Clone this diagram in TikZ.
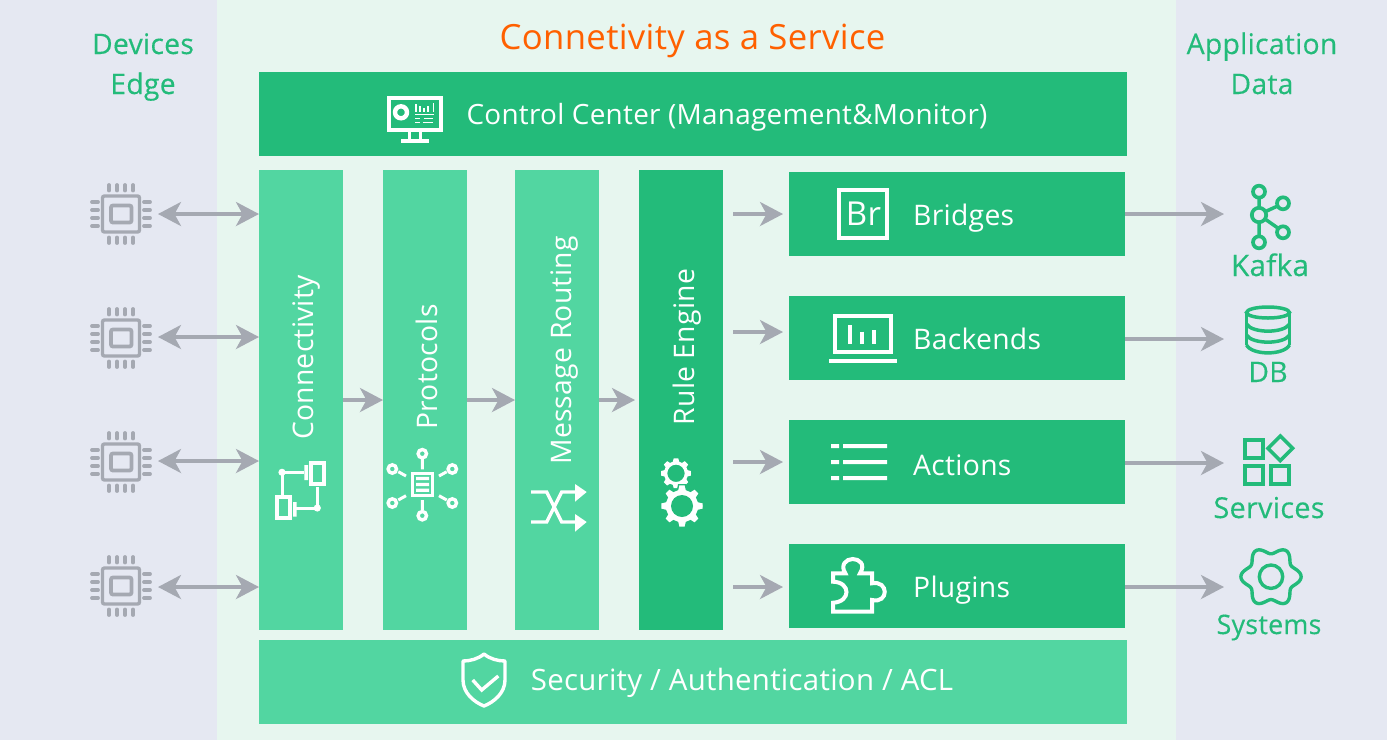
\documentclass[tikz,border=0pt]{standalone}
\usepackage{fontspec}
\setmainfont{Open Sans}[LetterSpace=1]
\newfontfamily\headfont{Open Sans}[LetterSpace=1,FakeBold=0.35]
\usetikzlibrary{arrows.meta,calc}
\definecolor{sidebg}{HTML}{E5E8F2}
\definecolor{midbg}{HTML}{E7F6EF}
\definecolor{dgreen}{HTML}{23BB7A}
\definecolor{lgreen}{HTML}{52D6A1}
\definecolor{arrgray}{HTML}{A5A9B2}
\definecolor{orangetitle}{HTML}{FF6000}
\newcommand{\fs}[1]{\fontsize{#1}{#1}\selectfont}
\tikzset{
 x=1pt,y=-1pt,
 box/.style={anchor=north west,inner sep=0,outer sep=0,text=white,align=center},
 darkbox/.style={box,fill=dgreen},
 lightbox/.style={box,fill=lgreen},
 colbox/.style={minimum width=84pt,minimum height=460pt},
 rowbox/.style={minimum width=336pt,minimum height=84pt},
 wide/.style={minimum width=868pt,minimum height=84pt},
 lab/.style={text=white,inner sep=0,anchor=base,font=\fs{28.3}},
 vlab/.style={lab,rotate=90},
 head/.style={text=dgreen,inner sep=0,anchor=base,font=\headfont\fs{28.3}},
 hook/.style={inner sep=0,outer sep=0,minimum size=6pt},
 flow/.style={draw=arrgray,line width=3.4pt,-{Stealth[length=23pt,width=24pt,inset=6.5pt]}},
 flowtwo/.style={draw=arrgray,line width=3.4pt,{Stealth[length=23pt,width=24pt,inset=6.5pt]}-{Stealth[length=23pt,width=24pt,inset=6.5pt]}},
 wl/.style={draw=white,line width=3.6pt},
 gl/.style={draw=dgreen,line width=3.5pt},
 chip/.pic={
  \draw[arrgray,line width=3.4pt,rounded corners=2pt] (-18.5,-18) rectangle (18.5,18);
  \draw[arrgray,line width=3.8pt,rounded corners=2pt] (-10,-8.5) rectangle (10.5,8.5);
  \foreach \d in {-12,-4,4,12}{
   \draw[arrgray,line width=3.8pt,line cap=round] (\d,-29) -- (\d,-23.5);
   \draw[arrgray,line width=3.8pt,line cap=round] (\d,23.5) -- (\d,29);
   \draw[arrgray,line width=3.8pt,line cap=round] (-29,\d) -- (-23,\d);
   \draw[arrgray,line width=3.8pt,line cap=round] (23,\d) -- (29,\d);
  }
 }
}
\begin{document}
\begin{tikzpicture}
\useasboundingbox (0,0) rectangle (1387,740);
\fill[sidebg] (0,0) rectangle (1387,740);
\fill[midbg] (217,0) rectangle (1176,740);
% titles
\node[inner sep=0,anchor=base,text=orangetitle,font=\fs{34.7}] (title) at (692.5,49) {Connetivity as a Service};
\node[head] (h1) at (143,54) {Devices};
\node[head] (h2) at (143,94) {Edge};
\node[head] (h3) at (1262,54) {Application};
\node[head] (h4) at (1262,94) {Data};
% main boxes
\node[darkbox,wide] (control) at (259,72) {};
\node[lab,font=\fs{27.9}] (controlt) at (727,124) {Control Center (Management\&Monitor)};
\node[lightbox,wide] (security) at (259,640) {};
\node[lab,font=\fs{29.4}] (securityt) at (742,690) {Security / Authentication / ACL};
\node[lightbox,colbox] (conn) at (259,170) {};
\node[lightbox,colbox] (proto) at (383,170) {};
\node[lightbox,colbox] (route) at (515,170) {};
\node[darkbox,colbox] (rule) at (639,170) {};
\node[vlab] (connt) at (313,357.5) {Connectivity};
\node[vlab] (protot) at (437,367) {Protocols};
\node[vlab] (routet) at (571,350.5) {Message Routing};
\node[vlab] (rulet) at (694,347) {Rule Engine};
\node[darkbox,rowbox] (bridges) at (789,172) {};
\node[darkbox,rowbox] (backends) at (789,296) {};
\node[darkbox,rowbox] (actions) at (789,420) {};
\node[darkbox,rowbox] (plugins) at (789,544) {};
\node[lab,anchor=base west] (bridgest) at (913,225) {Bridges};
\node[lab,anchor=base west] (backendst) at (913,349) {Backends};
\node[lab,anchor=base west] (actionst) at (913,475) {Actions};
\node[lab,anchor=base west] (pluginst) at (913,597) {Plugins};
% chip anchors and arrows
\foreach \n/\cy/\ay in {1/214/214,2/338/337,3/462/461,4/586/587}{
 \pic at (121,\cy) {chip};
 \node[hook] (chip\n) at (155,\ay) {};
 \draw[flowtwo] (chip\n.east) -- (conn.west |- chip\n);
}
% flow between columns
\coordinate (flowy) at (0,400);
\draw[flow] (conn.east |- flowy) -- (proto.west |- flowy);
\draw[flow] (proto.east |- flowy) -- (route.west |- flowy);
\draw[flow,shorten >=4pt] (route.east |- flowy) -- (rule.west |- flowy);
% rule to outputs
\tikzset{rflow/.style={flow,shorten <=10pt,shorten >=6pt}}
\draw[rflow] (rule.east |- bridges.west) -- (bridges.west);
\draw[rflow] ([yshift=6pt]rule.east |- backends.west) -- ([yshift=6pt]backends.west);
\draw[rflow] (rule.east |- actions.west) -- (actions.west);
\draw[rflow] ([yshift=-1pt]rule.east |- plugins.west) -- ([yshift=-1pt]plugins.west);
% outputs
\node[hook,anchor=west] (kafka) at (1224,214) {};
\node[hook,anchor=west] (db) at (1224,339) {};
\node[hook,anchor=west] (services) at (1224,463) {};
\node[hook,anchor=west] (systems) at (1224,587) {};
\draw[flow] (bridges.east) -- (kafka.west);
\draw[flow] (backends.east |- db) -- (db.west);
\draw[flow] (actions.east |- services) -- (services.west);
\draw[flow] (plugins.east |- systems) -- (systems.west);
\node[head,font=\headfont\fs{29.6}] (kafkat) at (1270,276) {Kafka};
\node[head] (dbt) at (1268,382) {DB};
\node[head,font=\headfont\fs{28.8}] (servicest) at (1269,518) {Services};
\node[head,font=\headfont\fs{26.8}] (systemst) at (1269,634) {Systems};
% --- icons ---
% monitor
\draw[wl,line width=4pt] (389,98) rectangle (441,129.5);
\draw[wl,line width=3.4pt] (409.5,131) -- (409.5,140) (420.5,131) -- (420.5,140);
\fill[white] (401,139) rectangle (429,143);
\draw[wl,line width=4.4pt] (401,112.3) circle (6);
\foreach \bx/\by in {415.7/104,420/106,424/108.3,428/106,433.3/103.3}{\draw[wl,line width=1.6pt] (\bx,\by) -- (\bx,111.7);}
\draw[wl,line width=1.4pt] (415,114.5) -- (434,114.5) (415,118.7) -- (420,118.7) (424,118.7) -- (433,118.7) (415,122.7) -- (420,122.7) (423,122.7) -- (433,122.7);
% shield
\draw[wl,line width=3.4pt,line join=round] (484,654) .. controls (478,659) and (470,661) .. (463,661) -- (463,680) .. controls (463,693) and (474,702) .. (484,706) .. controls (494,702) and (505,693) .. (505,680) -- (505,661) .. controls (498,661) and (490,659) .. (484,654) -- cycle;
\draw[wl,line width=3.4pt] (472.7,680) -- (481.7,690) -- (498.3,676);
% connectivity icon
\draw[wl,line width=3.4pt] (311,463) rectangle (324,484) (277,497) rectangle (290,518);
\draw[wl,line width=3pt] (282,472.3) -- (304,472.3) (282,472.3) -- (282,495) (317.3,508) -- (317.3,486.7) (317.3,508) -- (296,508);
\fill[white] (304.3,465) rectangle (308,480) (293,502) rectangle (296.7,516.7);
\fill[white] (282,472.3) circle (3.6) (317.3,508) circle (3.6);
% protocols icon
\draw[wl,line width=3pt] (412.2,473.8) rectangle (432.5,495.2);
\fill[white] (416,476.8) rectangle (429,480) (416,482.8) rectangle (429,486) (416,488.6) rectangle (429,491.8);
\foreach \px/\py in {422.3/453.7,422.3/515.7,392.3/469,452.3/469,392.3/503,452.3/503}{\draw[wl,line width=3.4pt] (\px,\py) circle (4.2);}
\draw[wl,line width=3pt] (422.3,459) -- (422.3,469.3) (422.3,500) -- (422.3,510) (398.3,471.7) -- (406,476) (439,476) -- (446.7,471.7) (398.3,500) -- (406,495.7) (439,495.7) -- (446.7,500);
% routing icon
\draw[wl,line width=3.3pt] (531,492) -- (546.7,492) -- (561.7,522) -- (577,522) (531,522) -- (546.7,522) -- (561.7,492) -- (577,492);
\fill[white] (586.7,522) -- (575,514) -- (575,531.7) -- cycle (586.7,492) -- (575,484) -- (575,501.7) -- cycle;
% gears
\fill[white,even odd rule] (676,473.3) ++(0:15) \foreach \a in {0,45,...,315}{ -- ($(676,473.3)+(\a+9:15)$) -- ($(676,473.3)+(\a+15:12)$) -- ($(676,473.3)+(\a+30:12)$) -- ($(676,473.3)+(\a+36:15)$)} -- cycle (676,473.3) circle (8.7);
\draw[dgreen,line width=1.4pt,fill=white,even odd rule] (682,506) ++(0:21.5) \foreach \a in {0,45,...,315}{ -- ($(682,506)+(\a+9:21.5)$) -- ($(682,506)+(\a+15:17)$) -- ($(682,506)+(\a+30:17)$) -- ($(682,506)+(\a+36:21.5)$)} -- cycle;
\fill[dgreen] (682,506) circle (11);
% Br
\draw[wl,line width=4pt] (839.3,190) rectangle (887,238);
\node[lab,anchor=center,font=\fs{33}] (brt) at (863.5,214) {Br};
% backends
\draw[wl,line width=4pt] (835,316) rectangle (891,352);
\fill[white] (829,358.7) rectangle (897,362.7);
\draw[wl,line width=4pt] (850,325) -- (850,344) (862,331.7) -- (862,344) (874,330) -- (874,344);
% actions
\foreach \ly in {446,462,478}{\fill[white] (831,\ly-2) rectangle (839,\ly+2) (843,\ly-2) rectangle (887,\ly+2);}
% puzzle
\draw[wl,line width=4pt,line join=miter] (833,611.7) -- (872,611.7) -- (872,600) .. controls (889,604) and (889,580) .. (872,583.3) -- (872,573.3) -- (860,573.3) .. controls (866,564) and (859,559) .. (852.7,559) .. controls (846,559) and (840,565) .. (845.3,573.3) -- (833,573.3) -- (833,581.7) .. controls (851,582) and (851,602) .. (833,602.7) -- cycle;
% kafka
\draw[gl,line width=3.7pt] (1259,215) circle (7.2) (1259,191.7) circle (6) (1259,242.3) circle (6) (1283,203.3) circle (6) (1283,232.3) circle (6);
\draw[gl,line width=3.5pt] (1259,197.7) -- (1259,207.8) (1259,222.2) -- (1259,236.3) (1265.4,211.6) -- (1277.6,206) (1265,219) -- (1278.5,228.5);
% db
\draw[gl] (1268,312.5) ellipse (21.5 and 5.5);
\draw[gl] (1246.5,312.5) -- (1246.5,345) (1289.5,312.5) -- (1289.5,345);
\draw[gl] (1246.5,324) .. controls (1252,333.5) and (1284,333.5) .. (1289.5,324);
\draw[gl] (1246.5,335) .. controls (1252,344.5) and (1284,344.5) .. (1289.5,335);
\draw[gl] (1246.5,345) .. controls (1252,355.5) and (1284,355.5) .. (1289.5,345);
% services
\draw[gl] (1245,440) rectangle (1263,458) (1245,466) rectangle (1263,484) (1271,466) rectangle (1289,484);
\draw[gl] (1280.3,436) -- (1292.6,448.3) -- (1280.3,460.6) -- (1268,448.3) -- cycle;
% systems gear
\draw[gl,line width=3.4pt] (1271,576.7) circle (11.7);
\draw[gl,line width=3.4pt,line join=round] plot[domain=0:360,samples=121,smooth] ({1271+(26.5+3.6*cos(6*\x))*cos(\x)},{576.7+(26.5+3.6*cos(6*\x))*sin(\x)}) -- cycle;
\end{tikzpicture}
\end{document}
